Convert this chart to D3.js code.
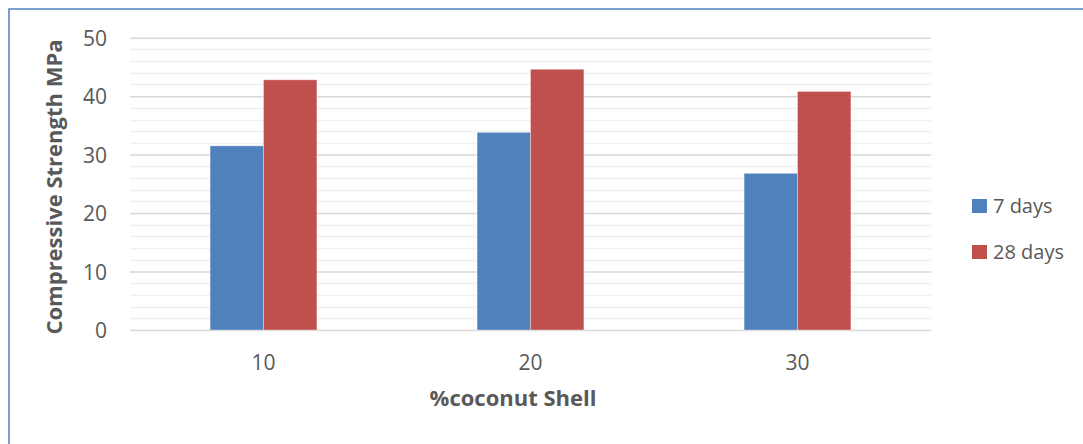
<!DOCTYPE html>
<html><head><meta charset="utf-8">
<script src="https://cdn.jsdelivr.net/npm/d3@7"></script>
<style>body{margin:0;background:#fff}svg{display:block}</style>
</head><body>
<svg id="c" width="1083" height="444"></svg>
<script>
const categories = ["10", "20", "30"];
const seriesNames = ["7 days", "28 days"];
const values7 = [31.5, 33.8, 26.8];
const values28 = [42.8, 44.6, 40.8];
const yTicks = [0, 10, 20, 30, 40, 50];
const colors = ["#4f81bd", "#c0504d"];

const FONT = "'Open Sans', 'Liberation Sans', sans-serif";
const svg = d3.select("#c");
const m = {left: 130, right: 931, top: 37.7, bottom: 330};

svg.append("rect").attr("x", 9).attr("y", 9).attr("width", 1100).attr("height", 500)
  .attr("fill", "none").attr("stroke", "#4f81bd").attr("stroke-width", 1.5);

const x = d3.scaleBand().domain(categories).range([m.left, m.right]).paddingInner(0.6).paddingOuter(0.3);
const y = d3.scaleLinear().domain([0, 50]).range([m.bottom, m.top]);
const xs = d3.scaleBand().domain(seriesNames).range([0, x.bandwidth()]);

// minor gridlines
const minor = d3.range(0, 51, 2).filter(v => v % 10 !== 0);
svg.append("g").selectAll("line").data(minor).join("line")
  .attr("x1", m.left).attr("x2", m.right)
  .attr("y1", d => Math.round(y(d)) + 0.5).attr("y2", d => Math.round(y(d)) + 0.5)
  .attr("stroke", "#f0f0f0").attr("stroke-width", 1.5);

// major gridlines + y labels
const yAxis = d3.axisLeft(y).tickValues(yTicks).tickSize(-(m.right - m.left)).tickPadding(23);
const gy = svg.append("g").attr("transform", `translate(${m.left},0)`).call(yAxis);
gy.select(".domain").remove();
gy.selectAll(".tick line").attr("stroke", "#d9d9d9").attr("stroke-width", 1.5);
gy.selectAll(".tick text").attr("fill", "#595959").attr("font-size", 21)
  .attr("font-family", FONT).attr("dy", "0.36em");

// bars
const data = categories.map((c, i) => ({c, vals: [values7[i], values28[i]]}));
const groups = svg.append("g").selectAll("g").data(data).join("g")
  .attr("transform", d => `translate(${x(d.c)},0)`);
groups.selectAll("rect").data(d => d.vals.map((v, j) => ({v, s: seriesNames[j], j})))
  .join("rect")
  .attr("x", d => xs(d.s)).attr("width", xs.bandwidth())
  .attr("y", d => y(d.v)).attr("height", d => y(0) - y(d.v))
  .attr("fill", d => colors[d.j]).attr("stroke", "rgba(255,255,255,0.35)").attr("stroke-width", 1);

// x axis
const xAxis = d3.axisBottom(x).tickSize(0);
const gx = svg.append("g").attr("transform", `translate(0,${m.bottom})`).call(xAxis);
gx.select(".domain").remove();
gx.selectAll(".tick text").attr("fill", "#595959").attr("font-size", 21)
  .attr("font-family", FONT).attr("y", 40).attr("dy", 0);

// axis titles
svg.append("text").attr("x", 513).attr("y", 406).attr("text-anchor", "middle")
  .attr("font-family", FONT).attr("font-weight", "bold")
  .attr("font-size", 22).attr("fill", "#595959").text("%coconut Shell");
svg.append("text").attr("transform", "translate(62,187) rotate(-90)").attr("text-anchor", "middle")
  .attr("font-family", FONT).attr("font-weight", "bold")
  .attr("font-size", 22).attr("fill", "#595959").text("Compressive Strength MPa");

// legend
const leg = svg.append("g").selectAll("g").data(seriesNames).join("g")
  .attr("transform", (d, i) => `translate(972,${199 + i * 46})`);
leg.append("rect").attr("width", 15).attr("height", 14).attr("fill", (d, i) => colors[i]);
leg.append("text").attr("x", 21).attr("y", 14).attr("fill", "#595959").attr("font-size", 20)
  .attr("font-family", FONT).text(d => d);
</script>
</body></html>
